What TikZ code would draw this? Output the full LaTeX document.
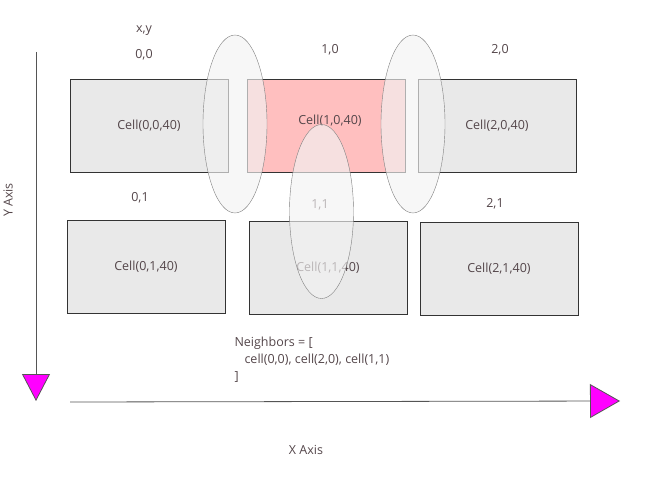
\documentclass[tikz,border=0pt]{standalone}
\usepackage{fontspec}
\setmainfont{Open Sans}
\usetikzlibrary{shapes.geometric, positioning, arrows.meta}
\definecolor{txtgray}{HTML}{54464A}
\definecolor{cellgray}{HTML}{E9E9E9}
\definecolor{cellpink}{HTML}{FFBFBF}
\definecolor{axisgray}{HTML}{555555}
\definecolor{headpink}{HTML}{FF00FF}
\tikzset{
    cell/.style={draw=black!80, fill=cellgray, minimum width=158pt, minimum height=93pt, inner sep=0pt, text=txtgray}, % one grid cell
    coord/.style={text=txtgray}, % x,y label above a cell
    halo/.style={ellipse, draw=gray, fill=gray!10, fill opacity=0.65, minimum width=64pt, minimum height=178pt, inner sep=0pt},
    axis/.style={draw=axisgray, line width=0.8pt, -{Triangle[width=28pt, length=27pt, fill=headpink]}}
}

\begin{document}
\begin{tikzpicture}[x=1pt, y=-1pt, every node/.style={font=\fontsize{12.5}{17}\selectfont}]
    \useasboundingbox (0,0) rectangle (671,478);

    % cells
    \node[cell] (cell00) at (149,125.5) {Cell(0,0,40)};
    \node[cell, fill=cellpink] (cell10) at (326,125.5) {};
    \node[text=txtgray] (txt10) at (330,121) {Cell(1,0,40)};
    \node[cell] (cell20) at (497,126) {Cell(2,0,40)};
    \node[cell] (cell01) at (146,267) {Cell(0,1,40)};
    \node[cell] (cell11) at (328,268) {Cell(1,1,40)};
    \node[cell] (cell21) at (499,269) {Cell(2,1,40)};

    % coordinates
    \node[coord] (xy) at (144,31) {x,y};
    \node[coord] (lbl00) at (144,55) {0,0};
    \node[coord] (lbl10) at (330,50) {1,0};
    \node[coord] (lbl20) at (500,50) {2,0};
    \node[coord] (lbl01) at (140,198) {0,1};
    \node[coord] (lbl11) at (320,205) {1,1};
    \node[coord] (lbl21) at (495,204) {2,1};

    % neighbours of cell(1,0)
    \node[halo] (left) at (235,124) {};
    \node[halo] (right) at (413,124) {};
    \node[halo, minimum height=174pt] (below) at (321.5,211.5) {};

    \node[coord, anchor=north west, align=left] (nbrs) at (231,333) {Neighbors = [\\\hspace{10pt}cell(0,0), cell(2,0), cell(1,1)\\]};

    % axes
    \coordinate (ystart) at (36,52);
    \coordinate (yend) at (36,401);
    \coordinate (xstart) at (70,402);
    \coordinate (xend) at (620,401);
    \draw[axis] (ystart) -- (yend);
    \draw[axis, -{Triangle[width=34pt, length=30pt, fill=headpink]}] (xstart) -- (xend);
    \node[coord, rotate=90] (ylbl) at (8,200) {Y Axis};
    \node[coord] (xlbl) at (306,450) {X Axis};
\end{tikzpicture}
\end{document}
